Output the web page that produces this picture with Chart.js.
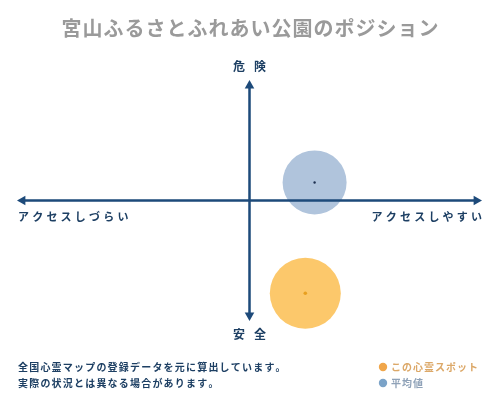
<!DOCTYPE html>
<html>
<head>
<meta charset="utf-8">
<script src="https://cdn.jsdelivr.net/npm/chart.js@4"></script>
<style>
  html, body { margin: 0; padding: 0; background: #fff; }
  #wrap { width: 500px; height: 400px; position: relative; }
</style>
</head>
<body>
<div id="wrap"><canvas id="pos" width="500" height="400"></canvas></div>
<script>
var chartTitle = '宮山ふるさとふれあい公園のポジション';
var seriesNames = ['この心霊スポット', '平均値'];
// [x, y, r] : x = access (easy +), y = danger (+) / safe (-)
var spotValues = [{ x: 2.4, y: -7.7, r: 35.5 }];
var averageValues = [{ x: 2.8, y: 1.5, r: 32 }];
var axisLabels = { left: 'アクセスしづらい', right: 'アクセスしやすい', top: '危険', bottom: '安全' };
var notes = ['全国心霊マップの登録データを元に算出しています。', '実際の状況とは異なる場合があります。'];

var FONT = '"Noto Sans CJK JP", "Noto Sans", sans-serif';
var NAVY = '#1d4a7a';

// canvas text with per-character spacing
function drawSpaced(ctx, text, x, y, spacing, align) {
  var chars = Array.from(text);
  var total = 0;
  chars.forEach(function (c) { total += ctx.measureText(c).width; });
  total += spacing * (chars.length - 1);
  var cx = x;
  if (align == 'center') cx = x - total / 2;
  if (align == 'right') cx = x - total;
  ctx.textAlign = 'left';
  chars.forEach(function (c) {
    ctx.fillText(c, cx, y);
    cx += ctx.measureText(c).width + spacing;
  });
}

function arrowHead(ctx, x, y, dir) {
  var s = 6;
  ctx.beginPath();
  if (dir == 'left') { ctx.moveTo(x, y); ctx.lineTo(x + s * 1.4, y - s * 0.8); ctx.lineTo(x + s * 1.4, y + s * 0.8); }
  if (dir == 'right') { ctx.moveTo(x, y); ctx.lineTo(x - s * 1.4, y - s * 0.8); ctx.lineTo(x - s * 1.4, y + s * 0.8); }
  if (dir == 'up') { ctx.moveTo(x, y); ctx.lineTo(x - s * 0.8, y + s * 1.4); ctx.lineTo(x + s * 0.8, y + s * 1.4); }
  if (dir == 'down') { ctx.moveTo(x, y); ctx.lineTo(x - s * 0.8, y - s * 1.4); ctx.lineTo(x + s * 0.8, y - s * 1.4); }
  ctx.closePath();
  ctx.fill();
}

var positionPlugin = {
  id: 'positionAxes',
  afterDatasetsDraw: function (chart) {
    var ctx = chart.ctx;
    var xs = chart.scales.x, ys = chart.scales.y;
    var x0 = xs.getPixelForValue(0), y0 = ys.getPixelForValue(0);
    var area = chart.chartArea;
    ctx.save();
    ctx.strokeStyle = NAVY;
    ctx.fillStyle = NAVY;
    ctx.lineWidth = 2.5;
    ctx.beginPath();
    ctx.moveTo(area.left + 4, y0); ctx.lineTo(area.right - 4, y0);
    ctx.moveTo(x0, area.top + 4); ctx.lineTo(x0, area.bottom - 4);
    ctx.stroke();
    arrowHead(ctx, area.left, y0, 'left');
    arrowHead(ctx, area.right, y0, 'right');
    arrowHead(ctx, x0, area.top, 'up');
    arrowHead(ctx, x0, area.bottom, 'down');

    // centre dots of the bubbles
    var dotColors = ['#e8a020', '#1d3050'];
    chart.data.datasets.forEach(function (ds, i) {
      chart.getDatasetMeta(i).data.forEach(function (el) {
        ctx.fillStyle = dotColors[i];
        ctx.beginPath();
        ctx.arc(el.x, el.y, i == 0 ? 1.8 : 1.2, 0, Math.PI * 2);
        ctx.fill();
      });
    });

    // axis labels
    ctx.fillStyle = '#1d3f63';
    ctx.textBaseline = 'middle';
    ctx.font = 'bold 11px ' + FONT;
    drawSpaced(ctx, axisLabels.left, area.left + 1, y0 + 16, 3.2, 'left');
    drawSpaced(ctx, axisLabels.right, area.right, y0 + 16, 3.2, 'right');
    ctx.font = 'bold 12px ' + FONT;
    drawSpaced(ctx, axisLabels.top, x0, area.top - 14, 9, 'center');
    drawSpaced(ctx, axisLabels.bottom, x0, area.bottom + 13, 9, 'center');

    // title
    ctx.fillStyle = '#9a9a9a';
    ctx.font = 'bold 20px ' + FONT;
    drawSpaced(ctx, chartTitle, 250, 28, 1, 'center');

    // notes
    ctx.fillStyle = '#1d3f63';
    ctx.font = 'bold 10px ' + FONT;
    drawSpaced(ctx, notes[0], 18, 367, 1.2, 'left');
    drawSpaced(ctx, notes[1], 18, 383, 1.2, 'left');

    // legend
    var legendDot = ['#f0a64a', '#7ba3c8'];
    var legendText = ['#dca868', '#8fa2b8'];
    seriesNames.forEach(function (name, i) {
      var ly = 367 + i * 16;
      ctx.fillStyle = legendDot[i];
      ctx.beginPath();
      ctx.arc(383, ly, 4.2, 0, Math.PI * 2);
      ctx.fill();
      ctx.fillStyle = legendText[i];
      ctx.font = 'bold 10px ' + FONT;
      drawSpaced(ctx, name, 391, ly, 1, 'left');
    });
    ctx.restore();
  }
};

var ctx = document.getElementById('pos');
var posChart = new Chart(ctx, {
  type: 'bubble',
  data: {
    datasets: [
      {
        label: seriesNames[0],
        data: spotValues,
        backgroundColor: '#fcc86b',
        borderWidth: 0,
        clip: false,
        hoverBackgroundColor: '#fcc86b'
      },
      {
        label: seriesNames[1],
        data: averageValues,
        backgroundColor: '#b0c4dc',
        borderWidth: 0,
        clip: false,
        hoverBackgroundColor: '#b0c4dc'
      }
    ]
  },
  options: {
    responsive: false,
    animation: false,
    layout: { autoPadding: false, padding: { left: 17, right: 18, top: 80, bottom: 79 } },
    scales: {
      x: { display: false, min: -10, max: 10 },
      y: { display: false, min: -10, max: 10 }
    },
    plugins: {
      legend: { display: false },
      tooltip: { enabled: false }
    }
  },
  plugins: [positionPlugin]
});
</script>
</body>
</html>
